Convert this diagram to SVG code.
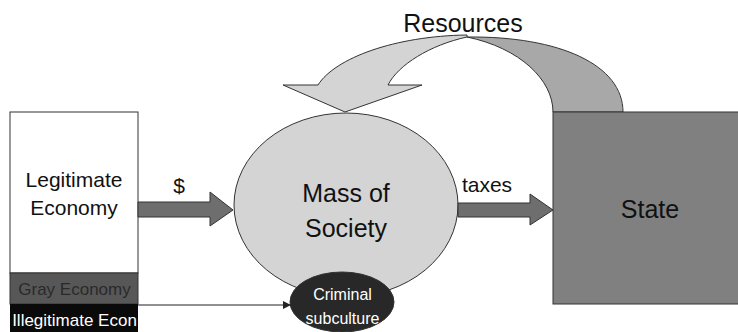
<svg xmlns="http://www.w3.org/2000/svg" width="738" height="332" viewBox="0 0 738 332">
<style>
text{font-family:"Liberation Sans",Arial,sans-serif;fill:#111;text-anchor:middle}
.s{stroke:#333;stroke-width:1}
.blk{fill:#6e6e6e;stroke:#333;stroke-width:1}
</style>
<defs>
<marker id="ah" viewBox="0 0 10 10" refX="10" refY="5" markerWidth="8" markerHeight="8" markerUnits="userSpaceOnUse" orient="auto">
<path d="M0,0 L10,5 L0,10 Z" fill="#222"/>
</marker>
</defs>
<rect width="738" height="332" fill="#fff"/>

<g id="resources-arrow">
<path class="s" fill="#a8a8a8" d="M553 112 C553 80 520 48 467 37 C560 36 623 65 623 112 Z"/>
<path class="s" fill="#d4d4d4" d="M467 35 C395 36 335 58 318 85 L283 85 L345 112 L422 85 L388 85 C398 65 430 45 467 37 Z"/>
<text x="463" y="32" font-size="25">Resources</text>
</g>

<g id="state">
<rect class="s" x="553" y="112" width="200" height="192" fill="#808080"/>
<text x="650" y="218" font-size="25">State</text>
</g>

<g id="economy">
<rect class="s" x="10" y="112" width="128" height="161" fill="#fff"/>
<rect class="s" x="10" y="273" width="128" height="31" fill="#575757"/>
<rect x="10" y="304" width="128" height="28" fill="#0a0a0a"/>
<text x="74" y="187" font-size="21">Legitimate</text>
<text x="74" y="215" font-size="21">Economy</text>
<text x="74.5" y="295" font-size="17" style="fill:#2a2a2a">Gray Economy</text>
<text x="74.5" y="326" font-size="17" style="fill:#fff">Illegitimate Econ</text>
</g>

<g id="mass-of-society">
<ellipse class="s" cx="346" cy="205" rx="112" ry="92" fill="#d4d4d4"/>
<text x="346" y="202" font-size="25">Mass of</text>
<text x="346" y="237" font-size="25">Society</text>
</g>

<g id="criminal-subculture">
<ellipse class="s" cx="342" cy="302" rx="52" ry="30" fill="#282828"/>
<text x="342.5" y="300" font-size="16" style="fill:#fff">Criminal</text>
<text x="342.5" y="324" font-size="16" style="fill:#fff">subculture</text>
</g>

<g id="connectors">
<polygon class="blk" points="138,202 210,202 210,192 233,210 210,226 210,217 138,217"/>
<text x="179" y="193" font-size="21">$</text>
<polygon class="blk" points="458,203 530,203 530,194 553,210 530,225 530,217 458,217"/>
<text x="487" y="192" font-size="21">taxes</text>
<line x1="138" y1="305" x2="291" y2="305" stroke="#222" stroke-width="1.2" marker-end="url(#ah)"/>
</g>
</svg>
